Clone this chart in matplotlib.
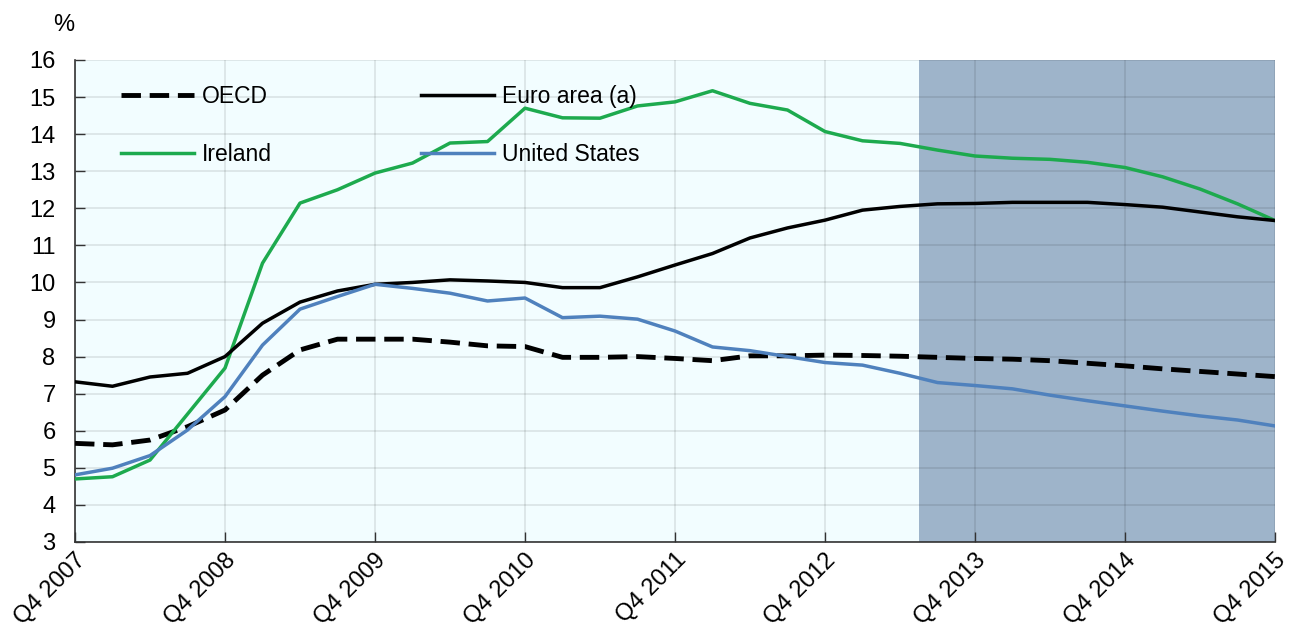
"""Unemployment rate, OECD / euro area / Ireland / United States, Q4 2007 - Q4 2015,
with the projection period shaded."""

import matplotlib

matplotlib.use("Agg")
import matplotlib.pyplot as plt

plt.rcParams["font.family"] = ["Liberation Sans", "DejaVu Sans"]

# quarterly, Q4 2007 .. Q4 2015 (33 points)
oecd = [5.66, 5.62, 5.75, 6.11, 6.56, 7.50, 8.18, 8.47, 8.47, 8.47, 8.39, 8.29, 8.27,
        7.98, 7.98, 8.00, 7.95, 7.89, 8.02, 8.02, 8.04, 8.03, 8.01, 7.98, 7.95, 7.93,
        7.89, 7.82, 7.75, 7.67, 7.60, 7.53, 7.46]
euro_area = [7.32, 7.20, 7.45, 7.55, 8.00, 8.90, 9.47, 9.77, 9.95, 10.00, 10.07, 10.04, 10.00,
             9.86, 9.86, 10.15, 10.47, 10.78, 11.20, 11.47, 11.68, 11.95, 12.05, 12.12, 12.13,
             12.16, 12.16, 12.16, 12.10, 12.03, 11.90, 11.77, 11.67]
ireland = [4.70, 4.76, 5.21, 6.45, 7.69, 10.52, 12.14, 12.50, 12.95, 13.22, 13.76, 13.80, 14.70,
           14.44, 14.43, 14.76, 14.87, 15.17, 14.83, 14.65, 14.07, 13.82, 13.75, 13.57, 13.41,
           13.35, 13.32, 13.24, 13.10, 12.85, 12.52, 12.12, 11.67]
united_states = [4.81, 4.99, 5.33, 6.02, 6.92, 8.31, 9.28, 9.62, 9.95, 9.84, 9.71, 9.50, 9.58,
                 9.05, 9.09, 9.01, 8.69, 8.26, 8.16, 8.00, 7.84, 7.77, 7.55, 7.30, 7.22, 7.13,
                 6.96, 6.81, 6.67, 6.53, 6.40, 6.29, 6.13]
tick_labels = ["Q4 2007", "Q4 2008", "Q4 2009", "Q4 2010", "Q4 2011",
               "Q4 2012", "Q4 2013", "Q4 2014", "Q4 2015"]
projection_start = 22.5  # quarters after Q4 2007

GREEN = "#1DAA4E"
BLUE = "#4F81BD"

fig = plt.figure(figsize=(12.91, 6.30), dpi=100)
ax = fig.add_axes([0.0581, 0.1397, 0.9295, 0.7651])
ax.set_facecolor("#F2FDFF")

x = list(range(len(oecd)))
ax.axvspan(projection_start, x[-1], color="#9EB4CA", zorder=0.5, lw=0)

ax.plot(x, oecd, color="black", lw=3.5, dashes=(4, 1.8), label="OECD", zorder=3)
ax.plot(x, ireland, color=GREEN, lw=2.5, label="Ireland", zorder=3)
ax.plot(x, euro_area, color="black", lw=2.5, label="Euro area (a)", zorder=3)
ax.plot(x, united_states, color=BLUE, lw=2.5, label="United States", zorder=3)

ax.set_xlim(0, x[-1])
ax.set_ylim(3, 16)
ax.set_yticks(range(3, 17))
ax.set_xticks(range(0, len(oecd), 4))
ax.set_xticklabels(tick_labels, rotation=45, ha="right", rotation_mode="anchor")
ax.tick_params(axis="both", direction="in", labelsize=17, color="#333333", length=7, width=1)
ax.tick_params(axis="y", pad=14)
ax.tick_params(axis="x", pad=5)

ax.grid(True, color="black", alpha=0.1, lw=1.2, zorder=1)
ax.set_axisbelow(True)
for side in ["top", "right"]:
    ax.spines[side].set_visible(False)
for side in ["left", "bottom"]:
    ax.spines[side].set_color("#333333")
    ax.spines[side].set_linewidth(1.2)

ax.legend(loc="upper left", bbox_to_anchor=(0.021, 0.99), ncol=2, frameon=False,
          fontsize=16.5, handlelength=3.2, handletextpad=0.35, columnspacing=6.5,
          labelspacing=1.5)

fig.text(0.049, 0.96, "%", fontsize=17, ha="center", va="center")

fig.savefig("out.png", dpi=100)
